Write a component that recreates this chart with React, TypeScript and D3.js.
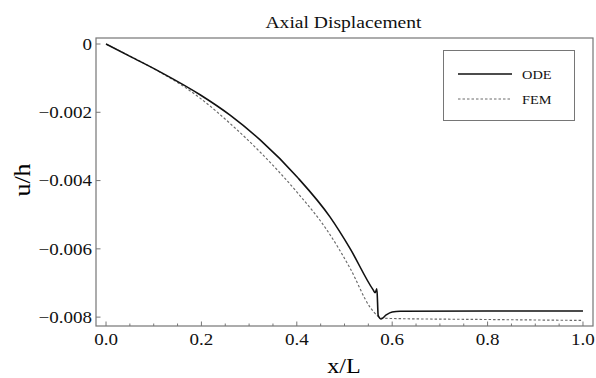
import React from "react";
import * as d3 from "d3";

const odeX = [0, 0.0503, 0.1133, 0.1972, 0.2601, 0.3231, 0.4007, 0.4699, 0.5118, 0.5601, 0.5643, 0.5679, 0.5706, 0.5769, 0.5874, 0.6, 0.6167, 0.8, 1.0];
const odeY = [0, -0.000362, -0.000816, -0.001487, -0.002085, -0.00281, -0.003896, -0.005072, -0.005994, -0.007202, -0.007285, -0.007173, -0.007951, -0.008053, -0.007936, -0.007848, -0.007828, -0.00782, -0.00782];

const femX = [0, 0.0503, 0.1133, 0.1657, 0.1972, 0.2601, 0.3231, 0.4007, 0.4636, 0.5118, 0.5538, 0.5685, 0.5748, 0.5958, 0.8, 1.0];
const femY = [0, -0.000352, -0.000825, -0.00127, -0.001585, -0.002327, -0.003165, -0.004345, -0.005458, -0.006571, -0.007713, -0.007955, -0.008024, -0.008039, -0.00807, -0.008097];

const xTicks = [0, 0.2, 0.4, 0.6, 0.8, 1.0];
const xTickLabels = ["0.0", "0.2", "0.4", "0.6", "0.8", "1.0"];
const xMinorTicks = [0.05, 0.1, 0.15, 0.25, 0.3, 0.35, 0.45, 0.5, 0.55, 0.65, 0.7, 0.75, 0.85, 0.9, 0.95];
const yTicks = [0, -0.002, -0.004, -0.006, -0.008];
const yTickLabels = ["0", "\u22120.002", "\u22120.004", "\u22120.006", "\u22120.008"];

const seriesNames = ["ODE", "FEM"];
const title = "Axial Displacement";
const xLabel = "x/L";
const yLabel = "u/h";

const FONT = "'Liberation Serif', 'Times New Roman', Times, serif";
const FRAME = "#767676";

export default function App() {
  const left = 96, right = 593, top = 38, bottom = 326;
  const x = d3.scaleLinear().domain([-0.021, 1.021]).range([left, right]);
  const y = d3.scaleLinear().domain([0.000176, -0.00826]).range([top, bottom]);

  const line = d3
    .line<[number, number]>()
    .x((d) => x(d[0]))
    .y((d) => y(d[1]))
    .curve(d3.curveMonotoneX);

  const ode: [number, number][] = odeX.map((v, i) => [v, odeY[i]]);
  const fem: [number, number][] = femX.map((v, i) => [v, femY[i]]);

  const stretch = 1.12;

  return (
    <svg
      width={596}
      height={378}
      style={{ position: "absolute", left: 0, top: 0, background: "#fff" }}
      fontFamily={FONT}
    >
      <rect x={0} y={0} width={596} height={378} fill="#fff" />
      {/* title */}
      <text
        transform={`translate(${(left + right) / 2 - 1},28) scale(${stretch},1)`}
        textAnchor="middle"
        fontSize={17.5}
        fill="#111"
      >
        {title}
      </text>

      {/* curves */}
      <path d={line(fem) || ""} fill="none" stroke="#6a6a6a" strokeWidth={1.15} strokeDasharray="2.5,2" />
      <path d={line(ode) || ""} fill="none" stroke="#111" strokeWidth={1.6} strokeLinejoin="round" />

      {/* frame */}
      <rect x={left} y={top} width={right - left} height={bottom - top} fill="none" stroke={FRAME} strokeWidth={1.2} />

      {/* x ticks */}
      {xTicks.map((t, i) => (
        <g key={"xt" + i}>
          <line x1={x(t)} x2={x(t)} y1={bottom} y2={bottom - 4.5} stroke={FRAME} strokeWidth={1} />
          <text
            transform={`translate(${x(t)},345) scale(${stretch},1)`}
            textAnchor="middle"
            fontSize={17}
            fill="#111"
          >
            {xTickLabels[i]}
          </text>
        </g>
      ))}
      {xMinorTicks.map((t, i) => (
        <line key={"xm" + i} x1={x(t)} x2={x(t)} y1={bottom} y2={bottom - 2.5} stroke={FRAME} strokeWidth={1} />
      ))}

      {/* y ticks */}
      {yTicks.map((t, i) => (
        <g key={"yt" + i}>
          <line x1={left} x2={left + 4.5} y1={y(t)} y2={y(t)} stroke={FRAME} strokeWidth={1} />
          <text
            transform={`translate(92,${y(t) + 5.8}) scale(${stretch},1)`}
            textAnchor="end"
            fontSize={17}
            fill="#111"
          >
            {yTickLabels[i]}
          </text>
        </g>
      ))}

      {/* axis labels */}
      <text
        transform={`translate(344,373) scale(1.12,1)`}
        textAnchor="middle"
        fontSize={21.5}
        fill="#000"
      >
        {xLabel}
      </text>
      <text
        transform={`translate(30,180) rotate(-90) scale(1.08,1)`}
        textAnchor="middle"
        fontSize={24}
        fill="#000"
      >
        {yLabel}
      </text>

      {/* legend */}
      <rect x={443.5} y={50.5} width={131} height={70} fill="#fff" stroke={FRAME} strokeWidth={1} />
      <line x1={458} x2={512} y1={74} y2={74} stroke="#111" strokeWidth={1.6} />
      <line x1={458} x2={512} y1={99} y2={99} stroke="#6a6a6a" strokeWidth={1} strokeDasharray="2.5,2" />
      <text transform={`translate(522,78.5) scale(1.15,1)`} fontSize={12.5} fill="#111">
        {seriesNames[0]}
      </text>
      <text transform={`translate(522,103.5) scale(1.15,1)`} fontSize={12.5} fill="#111">
        {seriesNames[1]}
      </text>
    </svg>
  );
}
